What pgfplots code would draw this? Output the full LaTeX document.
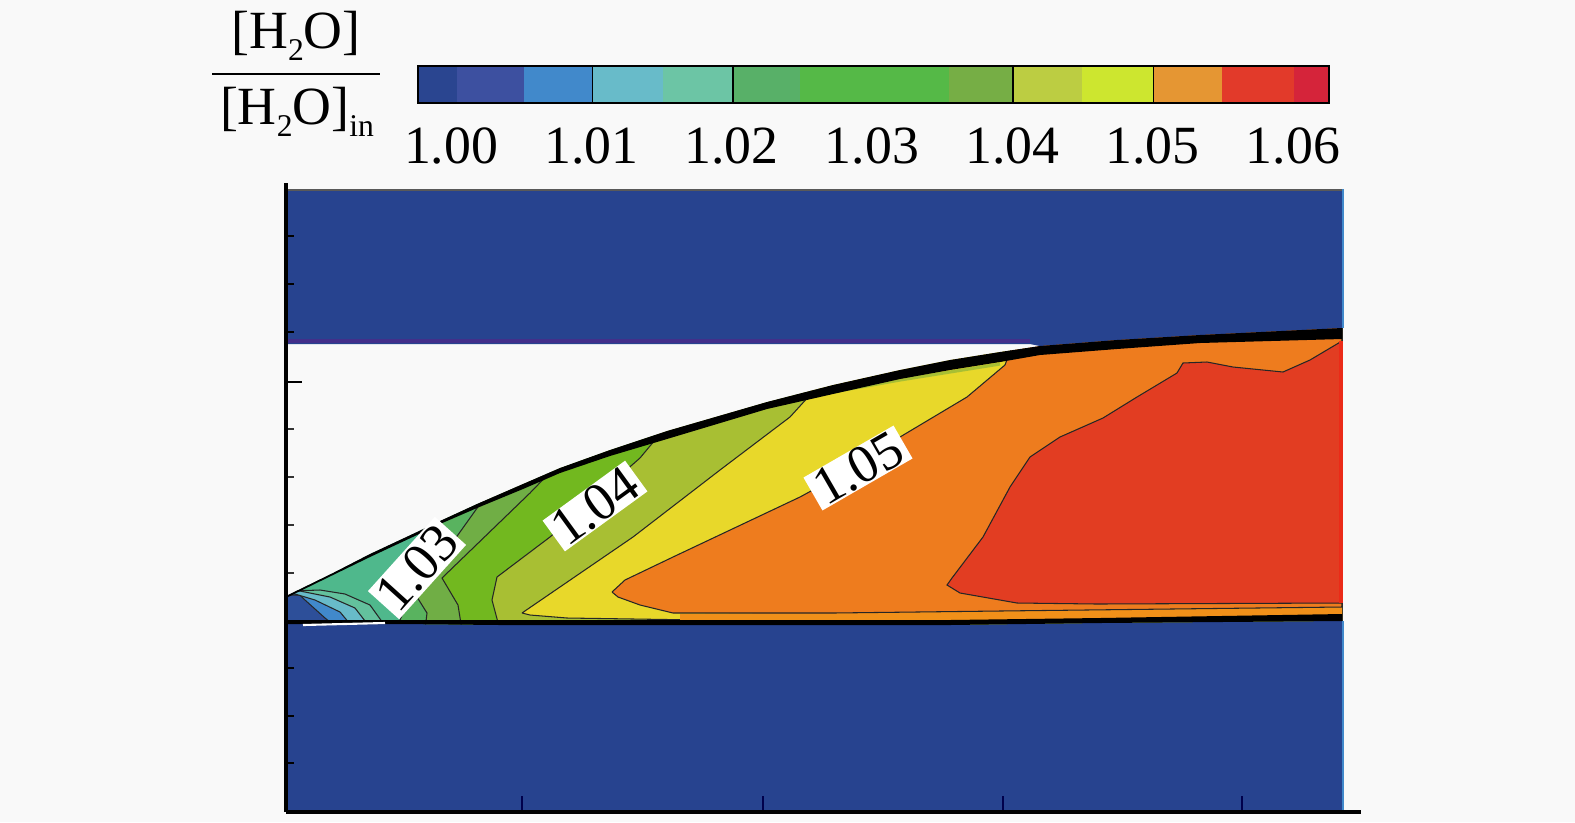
\documentclass[border=0pt]{standalone}
\usepackage{fontspec}
\setmainfont{Liberation Serif}
\usepackage{pgfplots}
\pgfplotsset{compat=1.18}
\definecolor{pagebg}{HTML}{F9F9F9}
\definecolor{wall}{HTML}{27438F}
\definecolor{cbA}{HTML}{2A4590}\definecolor{cbB}{HTML}{3D50A0}\definecolor{cbC}{HTML}{4189CB}
\definecolor{cbD}{HTML}{68BBC9}\definecolor{cbE}{HTML}{6CC5A5}\definecolor{cbF}{HTML}{58B068}
\definecolor{cbG}{HTML}{55B947}\definecolor{cbH}{HTML}{76AE45}\definecolor{cbI}{HTML}{BCCD42}
\definecolor{cbJ}{HTML}{CDE62F}\definecolor{cbK}{HTML}{E59633}\definecolor{cbL}{HTML}{E23A2A}
\definecolor{cbM}{HTML}{D5243A}
\definecolor{fOrange}{HTML}{EE7C1E}\definecolor{fRed}{HTML}{E23D22}\definecolor{fYellow}{HTML}{E8D82A}
\definecolor{fOlive}{HTML}{A8BF33}\definecolor{fVivid}{HTML}{72B81F}\definecolor{fMoss}{HTML}{70AE45}
\definecolor{fGreen}{HTML}{59B35F}\definecolor{fTeal}{HTML}{4FB88C}
\newcommand{\lbl}{\fontsize{15.3}{18}\selectfont}
\newcommand{\sub}[1]{\raisebox{-0.22em}{\fontsize{9}{10}\selectfont #1}}
\pgfplotsset{cont/.style={draw=black!85,line width=0.3pt}}
\begin{document}
\begin{tikzpicture}
\useasboundingbox (0,0) rectangle (15.75cm,-8.22cm);
\fill[pagebg] (0,0) rectangle (15.75cm,-8.22cm);

% legend title
\node[font=\lbl] at (2.96cm,-0.36cm) {[H\sub{2}O]};
\node[font=\lbl] at (2.97cm,-1.12cm) {[H\sub{2}O]\sub{in}};
\draw[line width=0.8pt] (2.12cm,-0.74cm) -- (3.80cm,-0.74cm);

% colour bar
\begin{axis}[
  at={(4.18cm,-1.03cm)},anchor=south west,
  scale only axis,width=9.11cm,height=0.37cm,
  xmin=0.99757,xmax=1.0625,ymin=0,ymax=1,
  axis on top,
  ytick=\empty,
  xtick={1.00,1.01,1.02,1.03,1.04,1.05,1.06},
  xticklabels={1.00,1.01,1.02,1.03,1.04,1.05,1.06},
  major tick length=0pt,
  axis line style={line width=0.6pt},
  xticklabel style={font=\lbl,anchor=base,yshift=-0.60cm,xshift=-0.01cm},
]
\addplot[fill=cbA,draw=none] coordinates {(0.99757,0)(1.00036,0)(1.00036,1)(0.99757,1)};
\addplot[fill=cbB,draw=none] coordinates {(1.00036,0)(1.00515,0)(1.00515,1)(1.00036,1)};
\addplot[fill=cbC,draw=none] coordinates {(1.00515,0)(1.01,0)(1.01,1)(1.00515,1)};
\addplot[fill=cbD,draw=none] coordinates {(1.01,0)(1.01502,0)(1.01502,1)(1.01,1)};
\addplot[fill=cbE,draw=none] coordinates {(1.01502,0)(1.02,0)(1.02,1)(1.01502,1)};
\addplot[fill=cbF,draw=none] coordinates {(1.02,0)(1.02482,0)(1.02482,1)(1.02,1)};
\addplot[fill=cbG,draw=none] coordinates {(1.02482,0)(1.0354,0)(1.0354,1)(1.02482,1)};
\addplot[fill=cbH,draw=none] coordinates {(1.0354,0)(1.04,0)(1.04,1)(1.0354,1)};
\addplot[fill=cbI,draw=none] coordinates {(1.04,0)(1.0449,0)(1.0449,1)(1.04,1)};
\addplot[fill=cbJ,draw=none] coordinates {(1.0449,0)(1.05,0)(1.05,1)(1.0449,1)};
\addplot[fill=cbK,draw=none] coordinates {(1.05,0)(1.0549,0)(1.0549,1)(1.05,1)};
\addplot[fill=cbL,draw=none] coordinates {(1.0549,0)(1.06,0)(1.06,1)(1.0549,1)};
\addplot[fill=cbM,draw=none] coordinates {(1.06,0)(1.0625,0)(1.0625,1)(1.06,1)};
\addplot[black,line width=0.5pt] coordinates {(1.01,0)(1.01,1)};
\addplot[black,line width=0.5pt] coordinates {(1.02,0)(1.02,1)};
\addplot[black,line width=0.5pt] coordinates {(1.04,0)(1.04,1)};
\addplot[black,line width=0.5pt] coordinates {(1.05,0)(1.05,1)};
\end{axis}

% contour field, axis values are in reference pixels
\begin{axis}[
  at={(2.86cm,-8.12cm)},anchor=south west,
  scale only axis,width=10.75cm,height=6.29cm,
  xmin=286,xmax=1361,ymin=183,ymax=812,
  y dir=reverse,
  axis x line=bottom,axis y line=left,
  axis line style={-,line width=1.1pt},
  axis on top,
  tick align=inside,
  xtick={522,763,1003,1242},
  ytick={382},
  minor ytick={429,477,525,573},
  extra y ticks={236,284,332,668,716,763},
  extra y tick labels={},
  extra tick style={major tick length=0.08cm,/pgfplots/tick style={color=cbC!60!wall,line width=0.6pt}},
  xticklabels={},yticklabels={},
  major tick length=0.16cm,minor tick length=0.08cm,
  x tick style={color=black!70!blue,line width=0.7pt},
  y tick style={color=black,line width=0.8pt},
  minor y tick style={color=black!80,line width=0.5pt},
]
% nose and fan
\addplot[fill=cbA!85!cbC,draw=none] coordinates {(288,585)(1342,585)(1342,630)(288,630)};
\addplot[fill=cbC,cont] coordinates {(340,630)(325,618)(305,600)(300,595)(288,595)(288,585)(1342,585)(1342,630)};
\addplot[fill=cbD,cont] coordinates {(355,630)(340,612)(315,600)(295,594)(288,592)(288,585)(1342,585)(1342,630)};
\addplot[fill=cbE!70!fTeal,cont] coordinates {(372,630)(355,608)(330,597)(300,591)(288,590)(288,585)(1342,585)(1342,630)};
\addplot[fill=fTeal,cont] coordinates {(388,630)(370,605)(345,594)(320,590)(290,591)(288,590)(288,480)(1342,480)(1342,630)};
% green to red bands
\addplot[fill=fGreen,cont] coordinates {(398,630)(400,620)(445,515)(470,490)(470,325)(1342,325)(1342,630)};
\addplot[fill=fMoss,cont] coordinates {(425,630)(427,613)(417,597)(440,560)(465,525)(490,490)(500,480)(500,325)(1342,325)(1342,630)};
\addplot[fill=fVivid,cont] coordinates {(462,630)(458,605)(442,578)(530,493)(560,462)(565,325)(1342,325)(1342,630)};
\addplot[fill=fOlive,cont] coordinates {(500,630)(492,600)(497,577)(550,537)(640,458)(655,440)(655,325)(1342,325)(1342,630)};
\addplot[fill=fYellow,cont] coordinates {(522,613)(633,537)(720,470)(790,417)(810,395)(815,325)(1342,325)(1342,620)(700,620)(567,618)(530,615)(522,613)};
\addplot[fill=fOrange!85!yellow,draw=none] coordinates {(680,614)(1342,607)(1342,620)(680,622)};
\addplot[fill=fOrange,cont] coordinates {(612,592)(625,580)(673,557)(800,497)(857,466)(900,437)(967,397)(1005,365)(1020,325)(1342,325)(1342,607)(1000,611)(833,613)(673,613)(640,605)(618,597)(612,592)};
\addplot[fill=fRed,cont] coordinates {(952,578)(983,537)(1010,487)(1030,457)(1060,437)(1103,418)(1137,397)(1177,373)(1183,363)(1207,362)(1233,367)(1283,372)(1310,360)(1342,341)(1342,603)(1097,604)(1017,603)(960,593)(947,585)(952,578)};
\addplot[color=fRed!70!red,line width=1pt] coordinates {(1341,341)(1341,603)};
% strip under the shock
\addplot[color=fOlive,line width=0.9pt] coordinates {(810,396)(900,380)(950,372)(1000,364)};
% gap above the shock
\addplot[fill=pagebg,draw=none] coordinates {(288,344)(1045,344)(1040,346)(1000,352)(950,360)(900,370)(833,385)(767,402)(667,431)(610,450)(560,468)(523,484)(477,504)(440,521)(417,532)(370,554)(333,573)(288,595)};
% walls
\addplot[fill=wall,draw=none] coordinates {(288,189)(1342,189)(1342,328)(1200,335)(1117,340)(1040,346)(1030,344)(288,344)};
\addplot[fill=wall,draw=none] coordinates {(288,624)(400,624)(500,625)(833,625)(950,625)(1100,623)(1342,621)(1342,810)(288,810)};
\addplot[color=black!65,line width=0.6pt] coordinates {(288,190)(1342,190)};
\addplot[color=wall!70!violet,line width=1.2pt] coordinates {(288,341)(1030,341)};
\addplot[color=cbC,line width=0.4pt] coordinates {(1343,189)(1343,328)};
\addplot[color=cbC,line width=0.4pt] coordinates {(1343,621)(1343,810)};
% shock and wall boundary layers
\addplot[fill=black,draw=none] coordinates {(288,595)(333,573)(370,554)(417,532)(440,521)(477,504)(523,484)(560,468)(610,450)(667,431)(767,402)(833,385)(900,370)(950,360)(1000,352)(1040,346)(1117,340)(1200,335)(1342,328)(1342,339)(1200,343)(1117,349)(1040,355)(1000,362)(950,370)(900,379)(833,394)(767,409)(667,439)(610,456)(560,473)(523,489)(477,508)(440,524)(417,535)(370,557)(333,575)(288,597)};
\addplot[fill=black,draw=none] coordinates {(288,620)(400,620)(500,620)(833,620)(950,620)(1100,618)(1342,614)(1342,621)(1100,623)(950,625)(833,625)(500,625)(400,624)(288,624)};
\addplot[color=white,line width=0.6pt] coordinates {(303,625)(385,623)};
% contour labels
\node[fill=white,font=\lbl,rotate=48,minimum width=1.0cm,minimum height=0.42cm,inner sep=0pt] at (axis cs:417,568) {1.03};
\node[fill=white,font=\lbl,rotate=36,minimum width=1.02cm,minimum height=0.38cm,inner sep=0pt] at (axis cs:595,506) {1.04};
\node[fill=white,font=\lbl,rotate=30,minimum width=1.04cm,minimum height=0.38cm,inner sep=0pt] at (axis cs:858,468) {1.05};
\end{axis}
\end{tikzpicture}
\end{document}
